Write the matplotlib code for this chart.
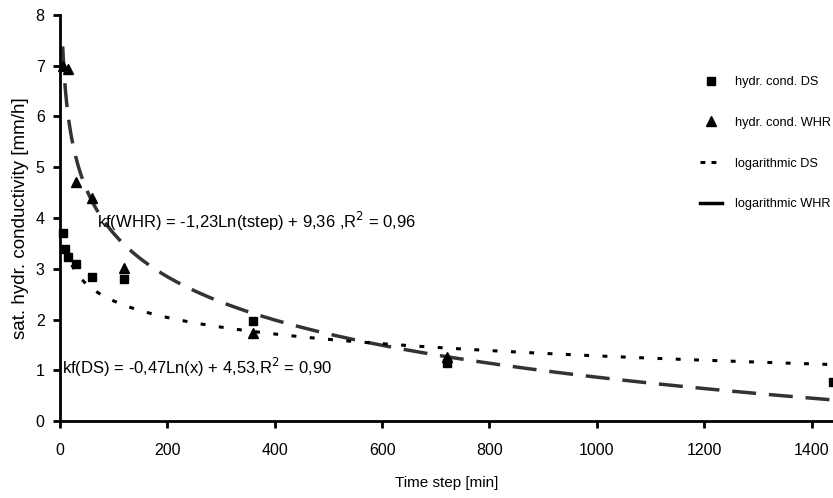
import numpy as np
import matplotlib
matplotlib.use("Agg")
import matplotlib.pyplot as plt
from matplotlib.lines import Line2D

plt.rcParams['font.family'] = ['Liberation Sans', 'DejaVu Sans']

# data
t_ds = [5, 10, 15, 30, 60, 120, 360, 720, 1440]
k_ds = [3.70, 3.38, 3.24, 3.10, 2.83, 2.79, 1.98, 1.14, 0.76]
t_whr = [5, 15, 30, 60, 120, 360, 720]
k_whr = [7.00, 6.93, 4.71, 4.39, 3.01, 1.74, 1.27]

# trendline coefficients shown in the chart
a_ds, b_ds = -0.47, 4.53
a_whr, b_whr = -1.23, 9.36

x_ticks = [0, 200, 400, 600, 800, 1000, 1200, 1400]
y_ticks = [0, 1, 2, 3, 4, 5, 6, 7, 8]

fig = plt.figure(figsize=(8.33, 4.98), dpi=100)
ax = fig.add_axes([60/833, 1-421/498, 1-60/833, (421-15)/498])

xx = np.linspace(min(t_ds), 1440, 600)
ax.plot(xx, a_whr*np.log(xx)+b_whr, color='#333333', lw=2.5, dashes=(6.9, 3.7), zorder=2)
ax.plot(xx, a_ds*np.log(xx)+b_ds, color='black', lw=2.2, dashes=(1.6, 4.4), zorder=2)
ax.plot(t_ds, k_ds, 's', color='black', ms=6, zorder=3, clip_on=False)
ax.plot(t_whr, k_whr, '^', color='black', ms=6.5, zorder=3, clip_on=False)

ax.set_xlim(0, 1440)
ax.set_ylim(0, 8)
ax.set_xticks(x_ticks)
ax.set_yticks(y_ticks)
for s in ['top', 'right']:
    ax.spines[s].set_visible(False)
for s in ['left', 'bottom']:
    ax.spines[s].set_linewidth(2)
ax.tick_params(axis='x', width=2, length=5, labelsize=11.5, pad=11)
ax.tick_params(axis='y', width=2, length=5, labelsize=11.5, pad=6)
ax.set_xlabel('Time step [min]', fontsize=11, labelpad=13)
ax.set_ylabel('sat. hydr. conductivity [mm/h]', fontsize=13.5, labelpad=5)

ax.text(69, 3.94, 'kf(WHR) = -1,23Ln(tstep) + 9,36 ,R$^2$ = 0,96', fontsize=12, va='center', ha='left')
ax.text(3, 1.06, 'kf(DS) = -0,47Ln(x) + 4,53,R$^2$ = 0,90', fontsize=12, va='center', ha='left')

handles = [
    Line2D([], [], marker='s', ls='none', color='black', ms=6),
    Line2D([], [], marker='^', ls='none', color='black', ms=6.5),
    Line2D([], [], color='black', lw=2.2, dashes=(1.6, 2.0)),
    Line2D([], [], color='black', lw=2.5),
]
labels = ['hydr. cond. DS', 'hydr. cond. WHR', 'logarithmic DS', 'logarithmic WHR']
leg = fig.legend(handles, labels, loc='upper left', bbox_to_anchor=(695/833, 1-71/498),
                 frameon=False, fontsize=9.2, labelspacing=2.25, handlelength=1.72,
                 handletextpad=1.0, borderaxespad=0)

fig.savefig('out.png', dpi=100)
